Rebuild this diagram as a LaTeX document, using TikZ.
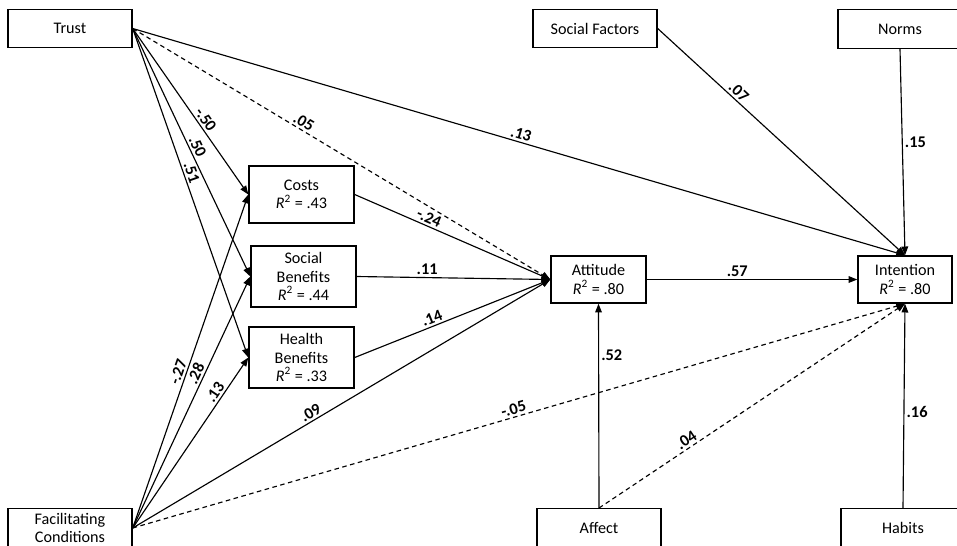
\documentclass[tikz,border=0pt]{standalone}
\usepackage{fontspec}
\setmainfont{Carlito}
\usetikzlibrary{arrows.meta}
\newcommand{\rsq}[1]{\textit{R}\textsuperscript{2} = #1}
\tikzset{
  box/.style={draw, fill=white, line width=0.8pt, align=center, inner sep=1pt,
    font=\fontsize{9.2}{10.4}\selectfont},
  wide/.style={box, minimum width=2.48cm, minimum height=0.77cm},
  mid/.style={box, minimum width=2.1cm, minimum height=1.22cm},
  coef/.style={font=\fontsize{9.3}{10}\selectfont\bfseries, inner sep=1.2pt},
  link/.style={->, line width=0.65pt},
  nslink/.style={link, dash pattern=on 2.6pt off 2pt}
}
\begin{document}
\begin{tikzpicture}[x=0.02cm, y=-0.02cm, >={Triangle[length=5pt,width=3.8pt]}]
    \useasboundingbox (0,0) rectangle (957,545);
    % boxes
    \node[wide] (trust) at (70,28.5) {Trust};
    \node[wide] (social) at (595,28.5) {Social Factors};
    \node[wide] (norms) at (900,29) {Norms};
    \node[mid, minimum height=1.14cm] (costs) at (301.5,194.5) {Costs\\\rsq{.43}};
    \node[mid] (socben) at (303.5,276.5) {Social\\Benefits\\\rsq{.44}};
    \node[mid] (healthben) at (301.5,357.5) {Health\\Benefits\\\rsq{.33}};
    \node[box, minimum width=1.9cm, minimum height=0.94cm] (attitude) at (598.5,279.5) {Attitude\\\rsq{.80}};
    \node[box, minimum width=1.88cm, minimum height=0.94cm] (intention) at (905,279.5) {Intention\\\rsq{.80}};
    \node[wide] (facil) at (70,528) {Facilitating\\Conditions};
    \node[wide] (affect) at (599,528) {Affect};
    \node[wide] (habits) at (903,528) {Habits};
    % paths from trust
    \draw[link] (trust.east) -- node[coef, sloped, above, pos=.575] {-.50} (costs.west);
    \draw[link] (trust.east) -- node[coef, sloped, above, pos=.49] {.50} (socben.west);
    \draw[link] (trust.east) -- node[coef, sloped, above, pos=.445] {.51} (healthben.west);
    \draw[nslink] (trust.east) -- node[coef, sloped, above, pos=.40] {.05} (attitude.west);
    \draw[link] (trust.east) -- node[coef, sloped, above, pos=.50] {.13} (intention.north);
    % paths from facilitating conditions
    \draw[link] (facil.east) -- node[coef, sloped, above, pos=.46] {-.27} (costs.west);
    \draw[link] (facil.east) -- node[coef, sloped, above, pos=.60] {.28} (socben.west);
    \draw[link] (facil.east) -- node[coef, sloped, above, pos=.77] {.13} (healthben.west);
    \draw[link] (facil.east) -- node[coef, sloped, above, pos=.436] {.09} (attitude.west);
    \draw[nslink] (facil.east) -- node[coef, sloped, above, pos=.496] {-.05} (intention.south);
    % beliefs to attitude
    \draw[link] (costs.east) -- node[coef, sloped, above, pos=.364] {-.24} (attitude.west);
    \draw[link] (socben.east) -- node[coef, above, pos=.364] {.11} (attitude.west);
    \draw[link] (healthben.east) -- node[coef, sloped, above, pos=.41] {.14} (attitude.west);
    % to intention
    \draw[link] (social.east) -- node[coef, sloped, above, pos=.306] {.07} (intention.north);
    \draw[link] (norms.south) -- node[coef, right, pos=.45] {.15} (intention.north);
    \draw[link] (attitude.east) -- node[coef, above, pos=.43] {.57} (intention.west);
    \draw[link] (affect.north) -- node[coef, right, pos=.75] {.52} (attitude.south);
    \draw[nslink] (affect.north) -- node[coef, sloped, above, pos=.30] {.04} (intention.south);
    \draw[link] (habits.north) -- node[coef, right, pos=.47] {.16} (intention.south);
\end{tikzpicture}
\end{document}
